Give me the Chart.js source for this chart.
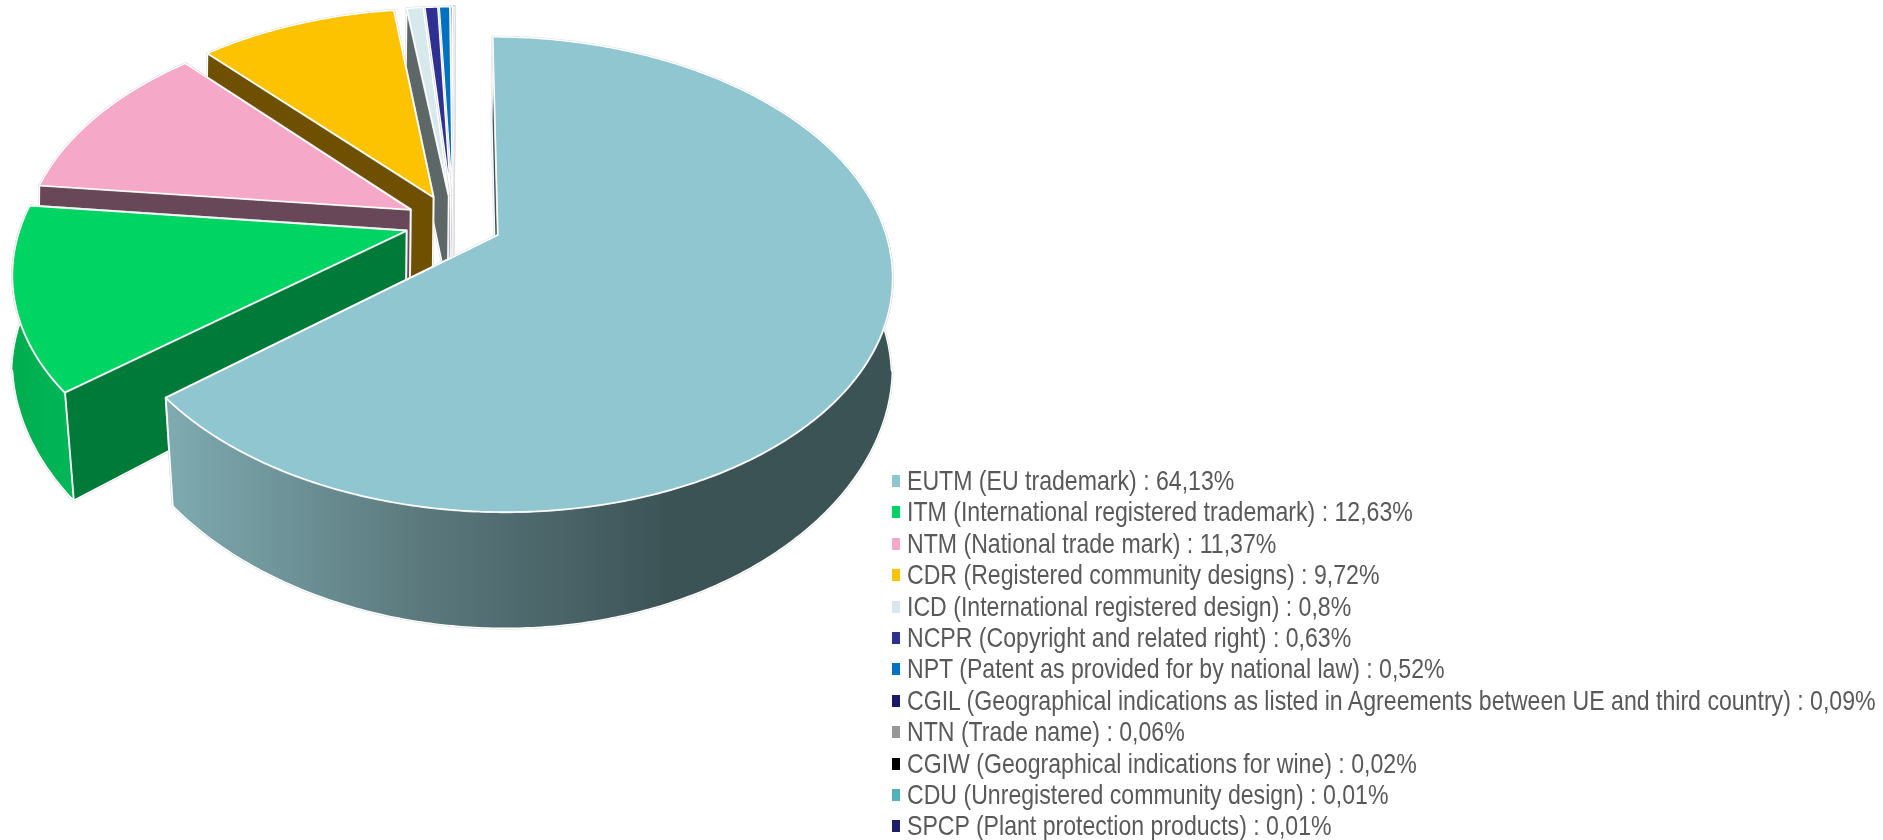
<!DOCTYPE html>
<html>
<head>
<meta charset="utf-8">
<title>Share of rights</title>
<script src="https://cdn.jsdelivr.net/npm/chart.js@4"></script>
<style>
  html, body { margin: 0; background: #fff; }
  #wrap { position: relative; width: 1883px; height: 840px; overflow: hidden; }
  #legend { position: absolute; left: 892px; top: 466px; filter: blur(0.5px); }
  .row { position: relative; height: 31.4px; white-space: nowrap; }
  .box { position: absolute; left: 0; top: 9px; width: 8px; height: 12px; }
  .txt {
    position: absolute; left: 15px; top: -1px;
    font: 28px/32px "Liberation Sans", Arial, sans-serif; color: #595959;
    transform: scaleX(0.825); transform-origin: left center;
  }
</style>
</head>
<body>
<div id="wrap">
  <canvas id="pie" width="1883" height="840"></canvas>
  <div id="legend"></div>
</div>
<script>
const categories = [
  "EUTM (EU trademark)",
  "ITM (International registered trademark)",
  "NTM (National trade mark)",
  "CDR (Registered community designs)",
  "ICD (International registered design)",
  "NCPR (Copyright and related right)",
  "NPT (Patent as provided for by national law)",
  "CGIL (Geographical indications as listed in Agreements between UE and third country)",
  "NTN (Trade name)",
  "CGIW (Geographical indications for wine)",
  "CDU (Unregistered community design)",
  "SPCP (Plant protection products)"
];
const shares = [64.13, 12.63, 11.37, 9.72, 0.8, 0.63, 0.52, 0.09, 0.06, 0.02, 0.01, 0.01];

const topColors = ["#8fc6cf", "#00d563", "#f6a8c8", "#fdc200", "#d7e9ed", "#2e3191", "#0070c0", "#1a1a66", "#999999", "#000000", "#53b1bd", "#1f1f66"];
const faceColors = ["#3c5356", "#007a39", "#684858", "#6e5000", "#5e6767", "#15184a", "#003a66", "#101040", "#555555", "#000000", "#2f6a72", "#101040"];

// tilt of the pie: the canvas has no perspective of its own, so arcs are projected here
const view = { cx: 498, cy: 235, a: 388, b: 231, k: 0.166, skew: 6, depth: 97, pinch: 0.044, shift: -1 };

function project(u, v, lower) {
  const w = 1 / (1 - view.k * v);
  let x = view.cx + (view.a * u + view.skew * v) * w;
  let y = view.cy + view.b * v * w;
  if (lower) {
    // the bottom rim draws in a little toward the front, and sits a hair left at the back
    x = view.cx + (x - view.cx) * (1 - view.pinch * Math.max(v - 0.15, 0)) + (v < 0.15 ? view.shift : 0);
    y += view.depth * w;
  }
  return { x, y };
}

function tracePath(ctx, pts) {
  ctx.beginPath();
  pts.forEach((p, i) => (i ? ctx.lineTo(p.x, p.y) : ctx.moveTo(p.x, p.y)));
  ctx.closePath();
}

function paint(ctx, pts, fill) {
  tracePath(ctx, pts);
  ctx.lineJoin = "round";
  ctx.strokeStyle = "#dcdcdc";
  ctx.lineWidth = 2.4;
  ctx.stroke();
  ctx.fillStyle = fill;
  ctx.fill();
  ctx.strokeStyle = "#ffffff";
  ctx.lineWidth = 1.4;
  ctx.stroke();
}

function outerWallFill(ctx, i) {
  if (i === 0) {
    const g = ctx.createLinearGradient(170, 0, 670, 0);
    g.addColorStop(0, "#7eaab0");
    g.addColorStop(0.5, "#5b797d");
    g.addColorStop(1, "#3c5356");
    return g;
  }
  if (i === 1) {
    const g = ctx.createLinearGradient(15, 0, 75, 0);
    g.addColorStop(0, "#00ad4f");
    g.addColorStop(1, "#00b858");
    return g;
  }
  return faceColors[i];
}

const pie3d = {
  id: "pie3d",
  beforeDatasetsDraw(chart) {
    const ctx = chart.ctx;
    const arcs = chart.getDatasetMeta(0).data;
    const first = arcs[0];
    const firstMid = (first.startAngle + first.endAngle) / 2;
    const firstE = first.options.offset / first.outerRadius;

    // smallest slices sit at the back, the big one in front
    for (let i = arcs.length - 1; i >= 0; i--) {
      const el = arcs[i];
      const mid = (el.startAngle + el.endAngle) / 2;
      const e = el.options.offset / el.outerRadius;
      const ou = e * Math.cos(mid) - firstE * Math.cos(firstMid);
      const ov = e * Math.sin(mid) - firstE * Math.sin(firstMid);

      const rim = [];
      const steps = Math.max(2, Math.ceil((el.endAngle - el.startAngle) / 0.01));
      for (let s = 0; s <= steps; s++) {
        const t = el.startAngle + (el.endAngle - el.startAngle) * s / steps;
        rim.push({ u: ou + Math.cos(t), v: ov + Math.sin(t), facing: Math.sin(t) > -0.05 });
      }
      const upper = rim.map(p => project(p.u, p.v, false));
      const lower = rim.map(p => project(p.u, p.v, true));
      const apexTop = project(ou, ov, false);
      const apexLow = project(ou, ov, true);

      // cut faces first, then the part of the curved wall facing us, then the top
      paint(ctx, [apexTop, upper[upper.length - 1], lower[lower.length - 1], apexLow], faceColors[i]);
      paint(ctx, [apexTop, upper[0], lower[0], apexLow], faceColors[i]);
      const wallTop = upper.filter((p, k) => rim[k].facing);
      const wallLow = lower.filter((p, k) => rim[k].facing);
      if (wallTop.length > 1) paint(ctx, wallTop.concat(wallLow.reverse()), outerWallFill(ctx, i));
      paint(ctx, [apexTop].concat(upper), el.options.backgroundColor);
    }
    return false;
  }
};

new Chart(document.getElementById("pie"), {
  type: "pie",
  data: {
    labels: categories,
    datasets: [{
      data: shares,
      backgroundColor: topColors,
      borderWidth: 0,
      offset: 47,
      radius: 370
    }]
  },
  options: {
    responsive: false,
    animation: false,
    plugins: { legend: { display: false }, tooltip: { enabled: false } }
  },
  plugins: [pie3d]
});

const legend = document.getElementById("legend");
categories.forEach((name, i) => {
  const row = document.createElement("div");
  row.className = "row";
  const box = document.createElement("span");
  box.className = "box";
  box.style.background = topColors[i];
  const txt = document.createElement("span");
  txt.className = "txt";
  txt.textContent = name + " : " + String(shares[i]).replace(".", ",") + "%";
  row.appendChild(box);
  row.appendChild(txt);
  legend.appendChild(row);
});
</script>
</body>
</html>
